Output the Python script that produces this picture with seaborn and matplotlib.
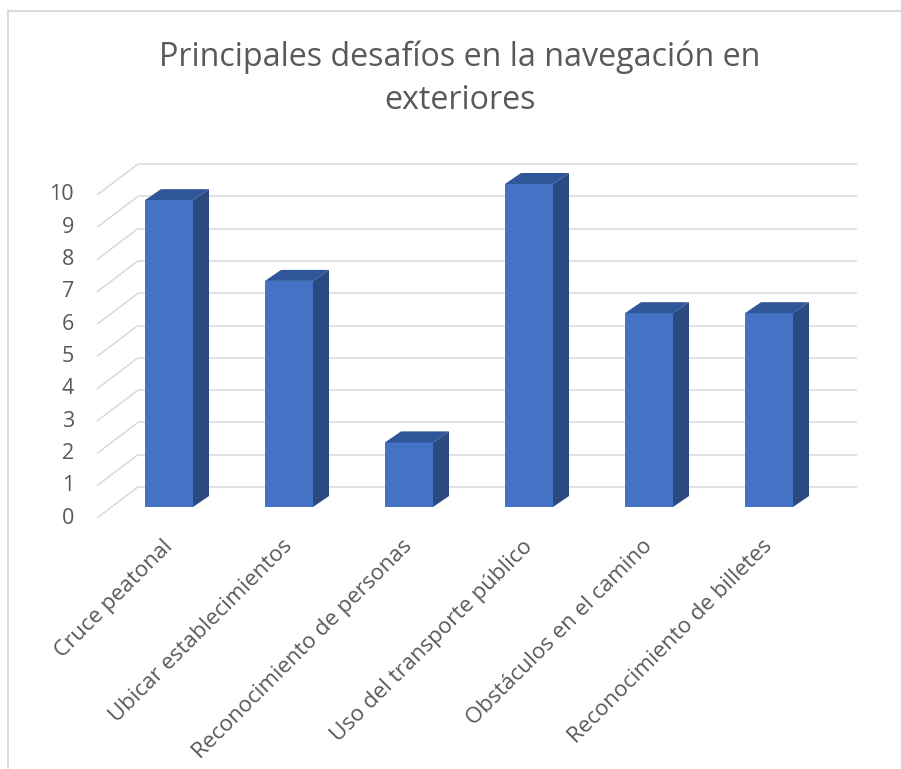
import matplotlib
matplotlib.use("Agg")
import matplotlib.pyplot as plt
from matplotlib.patches import Polygon
from matplotlib.lines import Line2D
import seaborn as sns
import pandas as pd

# Data
categories = [
    "Cruce peatonal",
    "Ubicar establecimientos",
    "Reconocimiento de personas",
    "Uso del transporte público",
    "Obstáculos en el camino",
    "Reconocimiento de billetes",
]
values = [9.5, 7, 2, 10, 6, 6]
y_ticks = list(range(0, 11))
title = "Principales desafíos en la navegación en\nexteriores"

sns.set_theme(style="white")
plt.rcParams["font.family"] = ["Open Sans", "DejaVu Sans"]

W, H = 901, 769
fig = plt.figure(figsize=(W / 100, H / 100), dpi=100)
ax = fig.add_axes([0, 0, 1, 1])

# pixel layout: one category = 120 px, one unit = 32.3 px
cat_px, unit_px = 120.0, 32.3
x0_px, y0_px = 169.0, 507.0

df = pd.DataFrame({"cat": categories, "val": values})
bar_w = 48 / cat_px
sns.barplot(data=df, x="cat", y="val", width=bar_w, color="#4472C4",
            saturation=1, linewidth=0, ax=ax, zorder=3, errorbar=None)

ax.set_xlim(-x0_px / cat_px, (W - x0_px) / cat_px)
ax.set_ylim(-(H - y0_px) / unit_px, y0_px / unit_px)
ax.axis("off")

# depth offsets (data units)
front_dx, front_dy = -15 / cat_px, -11 / unit_px   # floor front edge
back_dx, back_dy = 27 / cat_px, 20 / unit_px       # back wall
bar_dx, bar_dy = 16 / cat_px, 11 / unit_px         # bar depth

grid_c = "#D9D9D9"
left_front = (97 - x0_px) / cat_px
left_back = (138 - x0_px) / cat_px
right_back = (857 - x0_px) / cat_px
for v in y_ticks:
    ax.plot([left_front, left_back], [v + front_dy, v + back_dy],
            color=grid_c, lw=1.1, zorder=1, solid_capstyle="butt")
    ax.plot([left_back, right_back], [v + back_dy, v + back_dy],
            color=grid_c, lw=1.1, zorder=1, solid_capstyle="butt")
    ax.text((74 - x0_px) / cat_px, v + front_dy, str(v), ha="right",
            va="center", fontsize=15.5, color="#595959")

# side and top faces of each bar
half = bar_w / 2
for i, h in enumerate(values):
    side = [(i + half, 0), (i + half + bar_dx, bar_dy),
            (i + half + bar_dx, h + bar_dy), (i + half, h)]
    top = [(i - half, h), (i - half + bar_dx, h + bar_dy),
           (i + half + bar_dx, h + bar_dy), (i + half, h)]
    ax.add_patch(Polygon(side, closed=True, facecolor="#2A4A80",
                         edgecolor="none", zorder=3))
    ax.add_patch(Polygon(top, closed=True, facecolor="#30569A",
                         edgecolor="none", zorder=3))

# category labels
for i, c in enumerate(categories):
    ax.text(i + (162 - x0_px) / cat_px, (y0_px - 536) / unit_px, c,
            rotation=45, rotation_mode="anchor", ha="right", va="top",
            fontsize=16, color="#595959")

# title
fig.text(460 / W, 1 - 79 / H, title, ha="center", va="center",
         fontsize=23.2, color="#595959", linespacing=1.4)

# chart frame
fig.add_artist(Line2D([7.5 / W, 7.5 / W], [0, 1 - 10 / H], color=grid_c,
                      lw=1.3, transform=fig.transFigure))
fig.add_artist(Line2D([7.5 / W, 1], [1 - 10.5 / H, 1 - 10.5 / H],
                      color=grid_c, lw=1.3, transform=fig.transFigure))

fig.savefig("out.png", dpi=100, facecolor="white")
